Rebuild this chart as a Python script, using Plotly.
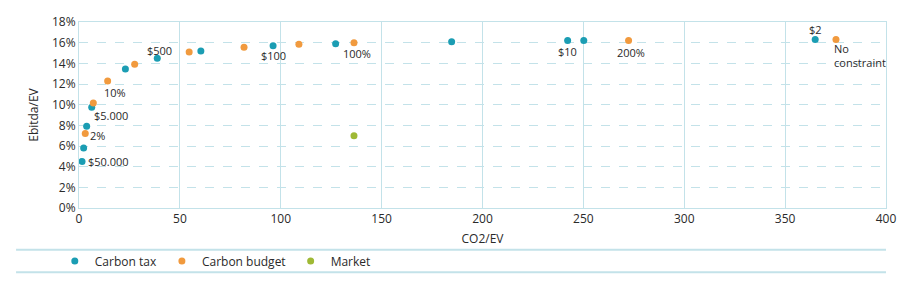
import plotly.graph_objects as go

# Carbon tax series
tax_x = [1.5, 2.3, 3.8, 6.3, 23, 38.8, 60.4, 96.2, 127.2, 184.7, 242.2, 250.2, 364.9]
tax_y = [4.5, 5.8, 7.9, 9.75, 13.45, 14.5, 15.2, 15.7, 15.9, 16.1, 16.2, 16.2, 16.3]
tax_labels = ["$50.000", "", "", "$5.000", "", "$500", "", "$100", "", "", "$10", "", "$2"]

# Carbon budget series
bud_x = [3.1, 7.1, 14.2, 27.6, 54.6, 81.8, 109, 136.3, 272.4, 375.2]
bud_y = [7.2, 10.15, 12.3, 13.9, 15.1, 15.55, 15.85, 16.0, 16.2, 16.3]
bud_labels = ["2%", "", "10%", "", "", "", "", "100%", "200%", "No<br>constraint"]

# Market series
mkt_x = [136.3]
mkt_y = [7.0]

x_ticks = [0, 50, 100, 150, 200, 250, 300, 350, 400]
y_ticks = [0, 2, 4, 6, 8, 10, 12, 14, 16, 18]
y_tick_text = [f"{v}%" for v in y_ticks]

TEAL = "#1b9db3"
ORANGE = "#f19a3e"
GREEN = "#9fb935"
GRID = "#c3e2e9"
FONT = "Open Sans"
TXT = "#2a2a2a"

fig = go.Figure()
fig.add_trace(go.Scatter(x=tax_x, y=tax_y, mode="markers", name="Carbon tax",
                         marker=dict(color=TEAL, size=7)))
fig.add_trace(go.Scatter(x=bud_x, y=bud_y, mode="markers", name="Carbon budget",
                         marker=dict(color=ORANGE, size=7)))
fig.add_trace(go.Scatter(x=mkt_x, y=mkt_y, mode="markers", name="Market",
                         marker=dict(color=GREEN, size=7)))

# label placement (offsets in px): label -> (xanchor, xshift, yshift)
placement = {
    "$50.000": ("left", 4, 0),
    "$5.000": ("left", 0, -8),
    "$500": ("center", 2, 8),
    "$100": ("center", 0, -10),
    "$10": ("center", 0, -11),
    "$2": ("center", 0, 10),
    "2%": ("left", 3, -2),
    "10%": ("center", 7, -12),
    "100%": ("center", 3, -11),
    "200%": ("center", 2, -12),
    "No<br>constraint": ("left", -4, -16),
}
for xs, ys, labs in [(tax_x, tax_y, tax_labels), (bud_x, bud_y, bud_labels)]:
    for x, y, lab in zip(xs, ys, labs):
        if not lab:
            continue
        xa, dx, dy = placement[lab]
        fig.add_annotation(x=x, y=y, text=lab, showarrow=False, xanchor=xa,
                           yanchor="middle", xshift=dx, yshift=dy, align="left",
                           font=dict(family=FONT, size=11, color=TXT))

# legend frame lines
for yy in [-0.225, -0.345]:
    fig.add_shape(type="line", xref="paper", yref="paper", x0=-0.078, x1=1.0,
                  y0=yy, y1=yy, line=dict(color=GRID, width=2))

fig.update_layout(
    width=916, height=288,
    margin=dict(l=79, r=30, t=22, b=75),
    paper_bgcolor="white", plot_bgcolor="white",
    font=dict(family=FONT, size=12, color=TXT),
    showlegend=True,
    legend=dict(orientation="h", x=-0.03, y=-0.285, xanchor="left", yanchor="middle",
                font=dict(family=FONT, size=12, color=TXT), itemwidth=30,
                tracegroupgap=0, bgcolor="rgba(0,0,0,0)"),
    xaxis=dict(range=[0, 400], tickvals=x_ticks, showgrid=True, gridcolor=GRID,
               gridwidth=1, zeroline=False, showline=True, linecolor=GRID, linewidth=1,
               mirror=True, ticks="", ticklen=0, tickfont=dict(size=12),
               title=dict(text="CO2/EV", standoff=8, font=dict(size=12))),
    yaxis=dict(range=[0, 18], tickvals=y_ticks, ticktext=y_tick_text, showgrid=True,
               gridcolor=GRID, griddash="dash", gridwidth=1, zeroline=False,
               showline=True, linecolor=GRID, linewidth=1, mirror=True, ticks="",
               tickfont=dict(size=12),
               title=dict(text="Ebitda/EV", standoff=10, font=dict(size=12))),
)

fig.write_html("out.html")
